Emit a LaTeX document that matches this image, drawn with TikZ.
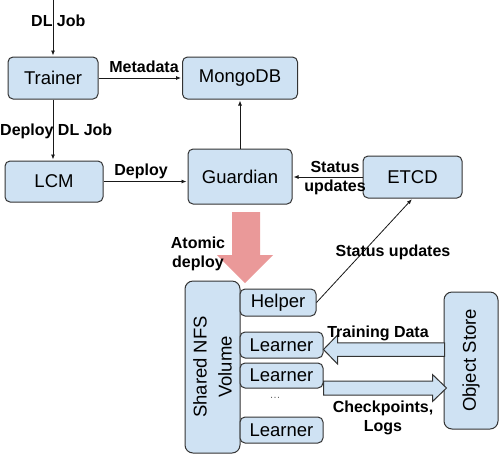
\documentclass[tikz,border=0pt]{standalone}
\usepackage{fontspec}
\setmainfont{Liberation Sans}
\usetikzlibrary{arrows.meta}
\definecolor{boxfill}{HTML}{CFE2F3}
\definecolor{boxline}{HTML}{333333}
\definecolor{pinkarrow}{HTML}{EA9999}
\begin{document}
\begin{tikzpicture}[x=1pt,y=-1pt,
  box/.style={draw=boxline, line width=1pt, fill=boxfill, rounded corners=5pt, inner sep=0pt, font=\fontsize{18.5}{22}\selectfont},
  lbl/.style={font=\bfseries\fontsize{16}{19}\selectfont, inner sep=0pt, align=center},
  conn/.style={draw=black!90, line width=0.8pt, -{Latex[length=5pt,width=4pt]}, shorten >=1pt},
  blockarrow/.style={draw=boxline, line width=1pt, fill=boxfill, line join=miter}]
\useasboundingbox (0,0) rectangle (500,456);

% pink atomic deploy arrow
\fill[pinkarrow] (232,212) -- (260,212) -- (260,255) -- (273,255) -- (245,283) -- (217,255) -- (232,255) -- cycle;

% boxes
\node[box, minimum width=90pt, minimum height=42pt] (trainer) at (53,78) {Trainer};
\node[box, minimum width=115pt, minimum height=42pt] (mongo) at (240,78) {MongoDB};
\node[box, minimum width=98pt, minimum height=41pt] (lcm) at (54,181.5) {LCM};
\node[box, minimum width=104pt, minimum height=55pt] (guardian) at (240,176.5) {Guardian};
\node[box, minimum width=99pt, minimum height=42pt] (etcd) at (412.5,177) {ETCD};
\node[box, rotate=90, rounded corners=8pt, minimum width=172pt, minimum height=55pt, align=center, font=\fontsize{18.5}{25}\selectfont] (nfs) at (212.5,367) {Shared NFS\\Volume};
\node[box, minimum width=76pt, minimum height=27pt] (helper) at (278,302.5) {Helper};
\node[box, minimum width=83pt, minimum height=26pt] (learner1) at (281.5,345) {Learner};
\node[box, minimum width=83pt, minimum height=25pt] (learner2) at (281.5,375.5) {Learner};
\node[box, minimum width=83pt, minimum height=26pt] (learner3) at (281.5,430) {Learner};
\node[font=\fontsize{11}{13}\selectfont, text=black!60, inner sep=0pt] (dots) at (275,398) {\dots};
\node[box, rotate=90, rounded corners=8pt, minimum width=137pt, minimum height=54pt] (objstore) at (471,360.5) {Object Store};

% connectors
\coordinate (jobin) at (53,0);
\draw[conn] (jobin) -- (trainer.north);
\node[lbl, anchor=base west] (ldljob) at (31,26) {DL Job};

\draw[conn] (trainer.east) -- (mongo.west);
\node[lbl, anchor=base] (lmeta) at (144,72) {Metadata};

\draw[conn] (trainer.south) -- (trainer.south |- lcm.north);
\node[lbl, anchor=base west] (ldeployjob) at (0,135) {Deploy DL Job};

\draw[conn] (lcm.east) -- (lcm.east -| guardian.west);
\node[lbl, anchor=base] (ldeploy) at (141,175) {Deploy};

\draw[conn] (etcd.west) -- (etcd.west -| guardian.east);
\node[lbl] (lstatus1) at (335,178.4) {Status\\updates};

\draw[conn] (guardian.north) -- (mongo.south);

\draw[conn] (helper.east) -- (etcd.south);
\node[lbl, anchor=base] (lstatus2) at (393,256) {Status updates};

\node[lbl] (latomic) at (198,254.3) {Atomic\\deploy};

% block arrows
\draw[blockarrow] ([yshift=-4.5pt]learner1.east) -- ++(14,-14.5) -- ++(0,7.75) -- ++(107,0) -- ++(0,13.5) -- ++(-107,0) -- ++(0,7.75) -- cycle;
\node[lbl, anchor=base] (ltrain) at (378,337) {Training Data};

\draw[blockarrow] ([yshift=-5.5pt]learner2.east) -- ++(109,0) -- ++(0,-6.5) -- ++(14,13.5) -- ++(-14,13.5) -- ++(0,-6.5) -- ++(-109,0) -- cycle;
\node[lbl] (lckpt) at (383,417.4) {Checkpoints,\\Logs};

\end{tikzpicture}
\end{document}
